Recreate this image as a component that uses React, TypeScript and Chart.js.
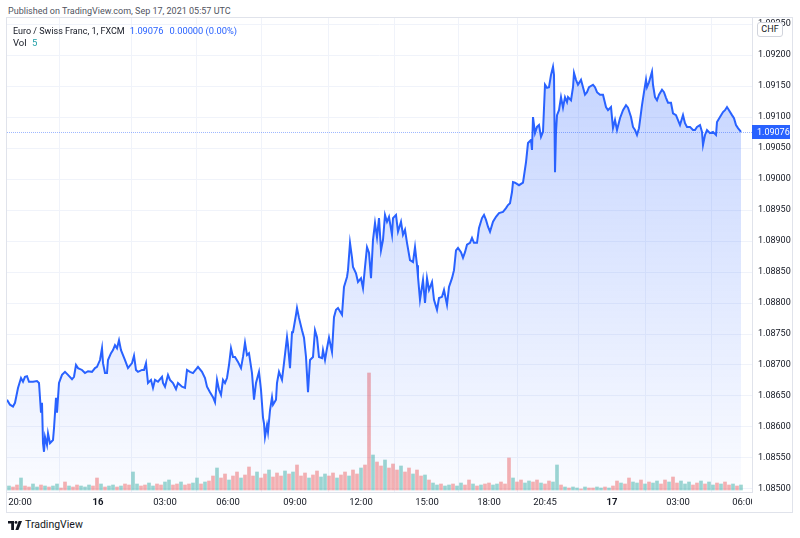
import React, { useEffect, useRef } from "react";
import { Chart, registerables } from "chart.js";

Chart.register(...registerables);

// ---- Price series (bar index, close) ----
const barIndex = [
  0, 3, 6, 8, 11, 14, 16, 18, 20, 22,
  26, 30, 32, 34, 35, 36, 37, 38, 40, 41,
  43, 46, 47, 49, 50, 52, 55, 58, 61, 65,
  67, 69, 71, 75, 78, 81, 85, 88, 90, 93,
  95, 96, 98, 100, 101, 104, 106, 108, 110, 112,
  114, 116, 118, 121, 125, 127, 129, 131, 135, 137,
  139, 141, 144, 146, 148, 151, 155, 156, 158, 161,
  163, 166, 169, 171, 175, 178, 180, 183, 186, 191,
  195, 198, 200, 203, 206, 208, 210, 212, 214, 216,
  218, 220, 222, 224, 226, 228, 231, 234, 236, 238,
  240, 242, 245, 247, 249, 252, 254, 256, 257, 258,
  260, 261, 263, 265, 266, 269, 270, 272, 275, 277,
  280, 281, 283, 285, 286, 289, 290, 292, 295, 297,
  299, 301, 303, 306, 308, 310, 312, 315, 316, 318,
  320, 322, 325, 327, 329, 331, 335, 337, 340, 341,
  343, 345, 346, 349, 351, 354, 356, 358, 360, 362,
  364, 366, 368, 370, 372, 374, 376, 378, 380, 382,
  385, 386, 389, 391, 394, 396, 398, 400, 403, 406,
  408, 410, 411, 413, 416, 418, 420, 422, 425, 427,
  430, 432, 435, 437, 440, 442, 445, 447, 449, 451,
  454, 456, 458, 460, 463, 465, 467, 470, 472, 475,
  477, 479, 481, 483, 486, 489, 492, 496, 499, 501,
  503, 505, 506, 508, 512, 516, 519, 521, 524, 525,
  526, 528, 530, 532, 534, 536, 538, 540, 542, 544,
  546, 547, 548, 549, 550, 552, 554, 556, 558, 560,
  561, 564, 566, 567, 569, 571, 574, 576, 578, 580,
  582, 586, 588, 590, 593, 596, 599, 601, 604, 606,
  608, 610, 613, 616, 619, 621, 624, 626, 628, 630,
  632, 635, 637, 639, 640, 642, 645, 646, 648, 650,
  652, 655, 657, 659, 661, 664, 666, 669, 671, 673,
  676, 678, 680, 683, 686, 688, 690, 693, 695, 696,
  698, 700, 703, 706, 709, 710, 713, 716, 718, 720,
  722, 725, 727, 729, 731, 734,
];

const closePrice = [
  1.08644, 1.08636, 1.08633, 1.08639, 1.08663, 1.08679, 1.08673, 1.08681, 1.08682, 1.08673,
  1.08673, 1.08674, 1.08671, 1.08623, 1.08639, 1.08574, 1.0856, 1.08584, 1.08571, 1.0859,
  1.08574, 1.08579, 1.08598, 1.08647, 1.08623, 1.08671, 1.08684, 1.08689, 1.08684, 1.08677,
  1.08681, 1.087, 1.08695, 1.08692, 1.08687, 1.0869, 1.08689, 1.08695, 1.08697, 1.08708,
  1.08727, 1.08703, 1.08687, 1.08687, 1.08708, 1.08719, 1.08724, 1.08732, 1.08727, 1.0874,
  1.08724, 1.08716, 1.08708, 1.08695, 1.08703, 1.08715, 1.08692, 1.08689, 1.08692, 1.08692,
  1.08703, 1.08671, 1.08676, 1.08663, 1.08676, 1.08673, 1.08681, 1.08671, 1.08665, 1.08684,
  1.08676, 1.08671, 1.08661, 1.08671, 1.08665, 1.08663, 1.08692, 1.08689, 1.08687, 1.08697,
  1.08689, 1.08679, 1.08665, 1.08656, 1.08648, 1.0864, 1.08676, 1.0866, 1.08652, 1.08676,
  1.08671, 1.08679, 1.087, 1.08727, 1.08713, 1.08713, 1.08705, 1.08695, 1.08713, 1.08736,
  1.08716, 1.08719, 1.08687, 1.08644, 1.08671, 1.08689, 1.0866, 1.08615, 1.08606, 1.08584,
  1.08603, 1.08592, 1.08627, 1.08648, 1.08636, 1.08644, 1.08671, 1.08689, 1.08676, 1.08703,
  1.08745, 1.08732, 1.08695, 1.08753, 1.08753, 1.08781, 1.08792, 1.08776, 1.08756, 1.08744,
  1.08713, 1.08656, 1.08708, 1.08713, 1.08756, 1.08745, 1.08713, 1.08711, 1.08724, 1.08708,
  1.08727, 1.08744, 1.08721, 1.08777, 1.08789, 1.08792, 1.08781, 1.08826, 1.08842, 1.08853,
  1.08897, 1.08873, 1.08858, 1.08848, 1.08834, 1.0884, 1.08824, 1.08858, 1.0889, 1.08881,
  1.0884, 1.08902, 1.08929, 1.08906, 1.08937, 1.08885, 1.08902, 1.08942, 1.08931, 1.08939,
  1.0891, 1.08937, 1.08942, 1.08915, 1.08931, 1.0891, 1.08918, 1.08897, 1.08869, 1.08866,
  1.0889, 1.08861, 1.08842, 1.08805, 1.08837, 1.088, 1.0884, 1.08821, 1.08834, 1.08805,
  1.08789, 1.08808, 1.0881, 1.08821, 1.08797, 1.08826, 1.0884, 1.08853, 1.08885, 1.08889,
  1.08882, 1.08873, 1.08882, 1.08894, 1.08897, 1.08905, 1.08897, 1.08897, 1.08921, 1.08937,
  1.08942, 1.08934, 1.08923, 1.08915, 1.08931, 1.08939, 1.08945, 1.08947, 1.08953, 1.08958,
  1.08961, 1.08979, 1.08995, 1.08994, 1.0899, 1.08994, 1.09027, 1.09058, 1.09063, 1.09047,
  1.091, 1.09074, 1.09084, 1.09087, 1.09068, 1.09076, 1.09152, 1.09147, 1.09148, 1.09168,
  1.09181, 1.09168, 1.09011, 1.09076, 1.09103, 1.09111, 1.09132, 1.09115, 1.09132, 1.09124,
  1.09132, 1.09127, 1.09148, 1.09171, 1.0916, 1.09152, 1.0916, 1.09148, 1.09136, 1.0914,
  1.09148, 1.09152, 1.09148, 1.0914, 1.09136, 1.09136, 1.09116, 1.09111, 1.09116, 1.09082,
  1.09095, 1.09079, 1.09098, 1.09111, 1.09119, 1.09115, 1.091, 1.09084, 1.09079, 1.09071,
  1.09082, 1.09119, 1.0914, 1.0916, 1.09148, 1.09156, 1.09173, 1.09152, 1.09132, 1.09127,
  1.09136, 1.09144, 1.0914, 1.09131, 1.09123, 1.09123, 1.09106, 1.09103, 1.09095, 1.09087,
  1.09103, 1.0909, 1.09084, 1.09084, 1.09079, 1.09079, 1.09084, 1.09087, 1.09076, 1.09055,
  1.09071, 1.09079, 1.09074, 1.09076, 1.09071, 1.09092, 1.091, 1.09108, 1.09111, 1.09116,
  1.09111, 1.09103, 1.09098, 1.09087, 1.09082, 1.09076,
];

// ---- Volume (one value per 4-bar group) and direction ----
const volume = [
  4, 3, 5, 12, 4, 3, 6, 3, 5, 4,
  3, 4, 6, 2, 8, 4, 3, 5, 4, 3,
  5, 4, 12, 6, 3, 4, 5, 3, 4, 6,
  5, 18, 6, 4, 5, 7, 4, 6, 5, 8,
  10, 5, 6, 8, 5, 6, 7, 12, 6, 8,
  9, 14, 22, 12, 16, 10, 14, 18, 12, 15,
  23, 14, 18, 12, 16, 20, 13, 17, 14, 19,
  16, 18, 25, 14, 17, 12, 15, 19, 13, 16,
  14, 17, 12, 15, 18, 14, 20, 16, 22, 25,
  117, 35, 28, 24, 30, 22, 26, 20, 24, 18,
  22, 16, 20, 14, 15, 10, 7, 5, 6, 4,
  5, 6, 4, 7, 5, 10, 6, 4, 5, 6,
  7, 5, 6, 8, 6, 32, 12, 8, 10, 7,
  9, 8, 10, 7, 6, 9, 8, 25, 5, 3,
  2, 3, 2, 1, 3, 2, 2, 3, 2, 3,
  2, 4, 9, 7, 6, 12, 8, 7, 10, 6,
  8, 7, 9, 6, 10, 8, 13, 7, 9, 6,
  8, 5, 7, 9, 6, 8, 5, 7, 6, 8,
  5, 6, 4, 5,
];
const volumeDirection =
  "uddudduudu" + "duuddudduu" + "udduduudud" + "duudduuddu" +
  "uddudduudu" + "ddudduddud" + "dduddudddu" + "dudddudduu" +
  "ddudduddud" + "duddudddud" + "dudduduudu" + "uduuddudud" +
  "duuddduddu" + "uddudduudu" + "duududduud" + "uddudduudu" +
  "duuddudduu" + "udduduudud" + "dudu";

// ---- Axes ----
const timeTickIndex = [13, 91, 158, 221, 288, 354, 420, 482, 538, 605, 671, 737];
const timeTickLabels = ["20:00", "16", "03:00", "06:00", "09:00", "12:00", "15:00", "18:00", "20:45", "17", "03:00", "06:00"];
const boldTickLabels = ["16", "17"];
const priceTicks = [
  1.085, 1.0855, 1.086, 1.0865, 1.087, 1.0875, 1.088, 1.0885,
  1.089, 1.0895, 1.09, 1.0905, 1.091, 1.0915, 1.092, 1.0925,
];
const lastPrice = 1.09076;
const FONT = 'Roboto, "Liberation Sans", Arial, sans-serif';

export default function App() {
  const canvasRef = useRef<HTMLCanvasElement | null>(null);

  useEffect(() => {
    const canvas = canvasRef.current;
    if (!canvas) return;

    const lastPricePlugin = {
      id: "lastPrice",
      beforeDatasetsDraw(chart: any) {
        const { ctx, chartArea } = chart;
        const y = Math.round(chart.scales.y.getPixelForValue(lastPrice)) + 0.5;
        ctx.save();
        ctx.strokeStyle = "rgba(41,98,255,0.45)";
        ctx.lineWidth = 1;
        ctx.setLineDash([1, 1]);
        ctx.beginPath();
        ctx.moveTo(chartArea.left, y);
        ctx.lineTo(chartArea.right, y);
        ctx.stroke();
        ctx.restore();
      },
      afterDraw(chart: any) {
        const { ctx, chartArea, width, height } = chart;
        ctx.save();
        // clip time labels that run into the price-axis column
        ctx.fillStyle = "#ffffff";
        ctx.fillRect(chartArea.right, chartArea.bottom + 2, width - chartArea.right, height - chartArea.bottom - 2);
        const y = chart.scales.y.getPixelForValue(lastPrice);
        ctx.fillStyle = "#2962ff";
        ctx.fillRect(chartArea.right, Math.round(y) - 7, 38, 14);
        ctx.fillStyle = "#ffffff";
        ctx.font = `9px ${FONT}`;
        ctx.textBaseline = "middle";
        ctx.textAlign = "left";
        ctx.fillText(lastPrice.toFixed(5), chartArea.right + 5, Math.round(y) + 0.5);
        ctx.restore();
      },
    };

    const chart = new Chart(canvas, {
      type: "line",
      data: {
        datasets: [
          {
            type: "line",
            data: barIndex.map((x, i) => ({ x, y: closePrice[i] })),
            borderColor: "#2962ff",
            borderWidth: 2,
            pointRadius: 0,
            tension: 0,
            fill: "start",
            backgroundColor: (c: any) => {
              const area = c.chart.chartArea;
              if (!area) return "rgba(41,98,255,0.15)";
              const g = c.chart.ctx.createLinearGradient(0, area.top, 0, area.bottom);
              g.addColorStop(0, "rgba(41,98,255,0.30)");
              g.addColorStop(1, "rgba(41,98,255,0.02)");
              return g;
            },
            yAxisID: "y",
            order: 0,
          } as any,
          {
            type: "bar",
            data: volume.map((v, i) => ({ x: i * 4 + 2, y: v })),
            backgroundColor: volume.map((_, i) =>
              volumeDirection[i] === "u" ? "rgba(38,166,154,0.45)" : "rgba(239,83,80,0.45)"
            ),
            barThickness: 3,
            yAxisID: "yv",
            order: 1,
          } as any,
        ],
      },
      options: {
        animation: false,
        responsive: false,
        maintainAspectRatio: false,
        layout: { padding: 0 },
        plugins: { legend: { display: false }, tooltip: { enabled: false } },
        scales: {
          x: {
            type: "linear",
            min: 0,
            max: 745,
            offset: false,
            afterBuildTicks: (s: any) => {
              s.ticks = timeTickIndex.map((v) => ({ value: v }));
            },
            afterFit: (s: any) => {
              s.height = 20;
              s.paddingLeft = 0;
              s.paddingRight = 0;
            },
            ticks: {
              autoSkip: false,
              maxRotation: 0,
              padding: 5,
              color: "#131722",
              font: (c: any) => ({
                family: FONT,
                size: 9.5,
                weight: boldTickLabels.includes(c.tick?.label) ? "bold" : "normal",
              }),
              callback: (v: any) => {
                const i = timeTickIndex.indexOf(Number(v));
                return i >= 0 ? timeTickLabels[i] : "";
              },
            },
            grid: { color: "#f0f3fa", drawTicks: false },
            border: { color: "#e0e3eb" },
          },
          y: {
            position: "right",
            min: 1.0849516,
            max: 1.0925968,
            afterBuildTicks: (s: any) => {
              s.ticks = priceTicks.map((v) => ({ value: v }));
            },
            afterFit: (s: any) => {
              s.width = 40;
              s.paddingTop = 0;
              s.paddingBottom = 0;
            },
            ticks: {
              padding: 6,
              color: "#131722",
              font: { family: FONT, size: 9 },
              callback: (v: any) => Number(v).toFixed(5),
            },
            grid: { color: "#f0f3fa", drawTicks: false },
            border: { color: "#e0e3eb" },
          },
          yv: { display: false, min: -2, max: 472 },
        },
      } as any,
      plugins: [lastPricePlugin],
    });

    return () => chart.destroy();
  }, []);

  return (
    <div
      style={{
        position: "absolute",
        left: 0,
        top: 0,
        width: 800,
        height: 538,
        background: "#ffffff",
        fontFamily: FONT,
        overflow: "hidden",
      }}
    >
      <div style={{ position: "absolute", left: 8, top: 6, fontSize: 9, color: "#50535e", whiteSpace: "nowrap" }}>
        Published on TradingView.com, Sep 17, 2021 05:57 UTC
      </div>
      <div
        style={{
          position: "absolute",
          left: 6,
          top: 17,
          width: 785,
          height: 494,
          border: "1px solid #e0e3eb",
        }}
      />
      <canvas
        ref={canvasRef}
        width={785}
        height={494}
        style={{ position: "absolute", left: 7, top: 18, width: 785, height: 494 }}
      />
      <div style={{ position: "absolute", left: 13, top: 25, fontSize: 9, color: "#131722", whiteSpace: "nowrap" }}>
        Euro / Swiss Franc, 1, FXCM
        <span style={{ color: "#2962ff", marginLeft: 5, fontSize: 9.3 }}>1.09076</span>
        <span style={{ color: "#2962ff", marginLeft: 6, fontSize: 9.3 }}>0.00000 (0.00%)</span>
      </div>
      <div style={{ position: "absolute", left: 13, top: 37, fontSize: 9.5, color: "#131722", whiteSpace: "nowrap" }}>
        Vol <span style={{ color: "#22a0a8", marginLeft: 3 }}>5</span>
      </div>
      <div
        style={{
          position: "absolute",
          left: 757,
          top: 22,
          width: 26,
          height: 15,
          boxSizing: "border-box",
          border: "1px solid #d1d4dc",
          borderRadius: 3,
          background: "#ffffff",
          fontSize: 9,
          color: "#131722",
          textAlign: "center",
          lineHeight: "13px",
        }}
      >
        CHF
      </div>
      <svg style={{ position: "absolute", left: 8, top: 521 }} width="14" height="9" viewBox="0 0 14 9">
        <path d="M0 0H6V9H3.2V2.6H0Z" fill="#131722" />
        <circle cx="8" cy="1.4" r="1.4" fill="#131722" />
        <path d="M10.6 0H14L10.4 9H7.4Z" fill="#131722" />
      </svg>
      <div style={{ position: "absolute", left: 25, top: 518, fontSize: 10.5, color: "#131722", whiteSpace: "nowrap" }}>
        TradingView
      </div>
    </div>
  );
}
